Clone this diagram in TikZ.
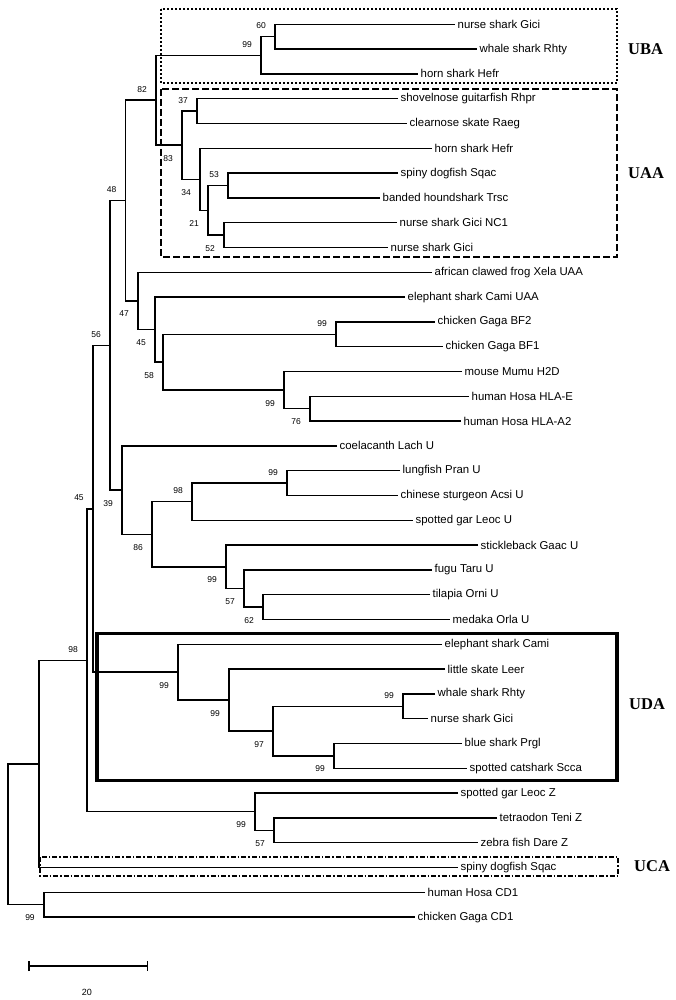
\documentclass[tikz,border=0pt]{standalone}
\usepackage{fontspec}
\setmainfont{Liberation Sans}
\newfontfamily\cladefont{Liberation Serif}
\usetikzlibrary{arrows.meta}

\begin{document}
\begin{tikzpicture}[x=1pt,y=-1pt,
    branch/.style={line width=1.5pt},
    taxon/.style={anchor=west,inner sep=2.5pt,font=\fontsize{11.4}{13}\selectfont},
    boot/.style={inner sep=0pt,font=\fontsize{8.5}{10}\selectfont},
    bup/.style={boot,xshift=-14pt,yshift=11pt},
    bdn/.style={boot,xshift=-14pt,yshift=-13pt},
    clade/.style={anchor=west,inner sep=0pt,font=\cladefont\bfseries\fontsize{16.5}{18}\selectfont},
    dotbox/.style={line width=2pt,dash pattern=on 2pt off 2pt},
    dashbox/.style={line width=2pt,dash pattern=on 7pt off 3pt},
    solidbox/.style={line width=3.5pt},
    dashdotbox/.style={line width=2pt,dash pattern=on 5pt off 2pt on 1.5pt off 2pt}]
  \useasboundingbox (0,0) rectangle (676,1000);

  % clade boxes
  \draw[dotbox] (161,9) rectangle (617,83);
  \draw[dashbox] (161,89) rectangle (617,257);
  \draw[solidbox] (97,633.5) rectangle (617,780.5);
  \draw[dashdotbox] (40,857) rectangle (618,875.5);
  \node[clade] (uba) at (628,49) {UBA};
  \node[clade] (uaa) at (628,173) {UAA};
  \node[clade] (uda) at (629,704) {UDA};
  \node[clade] (uca) at (634,866) {UCA};

  % taxa
  \node[taxon] (t1) at (455,24.3) {nurse shark Gici};
  \node[taxon] (t2) at (477,49.1) {whale shark Rhty};
  \node[taxon] (t3) at (418,73.9) {horn shark Hefr};
  \node[taxon] (t4) at (398,98.7) {shovelnose guitarfish Rhpr};
  \node[taxon] (t5) at (407,123.5) {clearnose skate Raeg};
  \node[taxon] (t6) at (432,148.3) {horn shark Hefr};
  \node[taxon] (t7) at (398,173.1) {spiny dogfish Sqac};
  \node[taxon] (t8) at (380,197.9) {banded houndshark Trsc};
  \node[taxon] (t9) at (397,222.7) {nurse shark Gici NC1};
  \node[taxon] (t10) at (388,247.5) {nurse shark Gici};
  \node[taxon] (t11) at (432,272.3) {african clawed frog Xela UAA};
  \node[taxon] (t12) at (405,297.1) {elephant shark Cami UAA};
  \node[taxon] (t13) at (435,321.9) {chicken Gaga BF2};
  \node[taxon] (t14) at (443,346.7) {chicken Gaga BF1};
  \node[taxon] (t15) at (462,371.5) {mouse Mumu H2D};
  \node[taxon] (t16) at (469,396.3) {human Hosa HLA-E};
  \node[taxon] (t17) at (461,421.1) {human Hosa HLA-A2};
  \node[taxon] (t18) at (337,445.9) {coelacanth Lach U};
  \node[taxon] (t19) at (400,470.7) {lungfish Pran U};
  \node[taxon] (t20) at (398,495.5) {chinese sturgeon Acsi U};
  \node[taxon] (t21) at (413,520.3) {spotted gar Leoc U};
  \node[taxon] (t22) at (478,545.1) {stickleback Gaac U};
  \node[taxon] (t23) at (432,569.9) {fugu Taru U};
  \node[taxon] (t24) at (430,594.7) {tilapia Orni U};
  \node[taxon] (t25) at (450,619.5) {medaka Orla U};
  \node[taxon] (t26) at (442,644.3) {elephant shark Cami};
  \node[taxon] (t27) at (445,669.1) {little skate Leer};
  \node[taxon] (t28) at (435,693.9) {whale shark Rhty};
  \node[taxon] (t29) at (428,718.7) {nurse shark Gici};
  \node[taxon] (t30) at (462,743.5) {blue shark Prgl};
  \node[taxon] (t31) at (467,768.3) {spotted catshark Scca};
  \node[taxon] (t32) at (458,793.1) {spotted gar Leoc Z};
  \node[taxon] (t33) at (497,817.9) {tetraodon Teni Z};
  \node[taxon] (t34) at (478,842.7) {zebra fish Dare Z};
  \node[taxon] (t35) at (458,867.5) {spiny dogfish Sqac};
  \node[taxon] (t36) at (425,892.3) {human Hosa CD1};
  \node[taxon] (t37) at (415,917.1) {chicken Gaga CD1};

  % internal nodes
  \coordinate (gici) at (275,36.7);
  \coordinate (ubaroot) at (261,55.3);
  \coordinate (batoid) at (197,111.1);
  \coordinate (sqtr) at (228,185.5);
  \coordinate (nc1) at (224,235.1);
  \coordinate (sharks) at (208,210.3);
  \coordinate (hefr) at (200,179.3);
  \coordinate (uaaroot) at (182,145.2);
  \coordinate (ubuaa) at (156,100.25);
  \coordinate (bf) at (336,334.3);
  \coordinate (hla) at (310,408.7);
  \coordinate (mammal) at (284,390.1);
  \coordinate (tetra) at (163,362.2);
  \coordinate (cami) at (155,329.65);
  \coordinate (xela) at (138,301);
  \coordinate (uaatop) at (125.5,200.6);
  \coordinate (lung) at (287,483.1);
  \coordinate (lepi) at (192,501.7);
  \coordinate (orla) at (263,607.1);
  \coordinate (taru) at (244,588.5);
  \coordinate (teleo) at (226,566.8);
  \coordinate (bony) at (152,534.25);
  \coordinate (uu) at (122,490.1);
  \coordinate (uclass) at (110,345.35);
  \coordinate (rhgi) at (403,706.3);
  \coordinate (prsc) at (334,755.9);
  \coordinate (carch) at (273,731.1);
  \coordinate (leer) at (229,700.1);
  \coordinate (udaroot) at (178,672.2);
  \coordinate (uad) at (93,508.8);
  \coordinate (teda) at (274,830.3);
  \coordinate (zroot) at (255,811.7);
  \coordinate (uadz) at (87,660.25);
  \coordinate (uall) at (39,763.9);
  \coordinate (cd1) at (44,904.7);
  \coordinate (root) at (8,834.3);

  % branches
  \draw[branch] (t1.west) -| (gici) |- (t2.west);
  \draw[branch] (gici) -| (ubaroot) |- (t3.west);
  \draw[branch] (t4.west) -| (batoid) |- (t5.west);
  \draw[branch] (t7.west) -| (sqtr) |- (t8.west);
  \draw[branch] (t9.west) -| (nc1) |- (t10.west);
  \draw[branch] (sqtr) -| (sharks) |- (nc1);
  \draw[branch] (t6.west) -| (hefr) |- (sharks);
  \draw[branch] (batoid) -| (uaaroot) |- (hefr);
  \draw[branch] (ubaroot) -| (ubuaa) |- (uaaroot);
  \draw[branch] (t13.west) -| (bf) |- (t14.west);
  \draw[branch] (t16.west) -| (hla) |- (t17.west);
  \draw[branch] (t15.west) -| (mammal) |- (hla);
  \draw[branch] (bf) -| (tetra) |- (mammal);
  \draw[branch] (t12.west) -| (cami) |- (tetra);
  \draw[branch] (t11.west) -| (xela) |- (cami);
  \draw[branch] (ubuaa) -| (uaatop) |- (xela);
  \draw[branch] (t19.west) -| (lung) |- (t20.west);
  \draw[branch] (lung) -| (lepi) |- (t21.west);
  \draw[branch] (t24.west) -| (orla) |- (t25.west);
  \draw[branch] (t23.west) -| (taru) |- (orla);
  \draw[branch] (t22.west) -| (teleo) |- (taru);
  \draw[branch] (lepi) -| (bony) |- (teleo);
  \draw[branch] (t18.west) -| (uu) |- (bony);
  \draw[branch] (uaatop) -| (uclass) |- (uu);
  \draw[branch] (t28.west) -| (rhgi) |- (t29.west);
  \draw[branch] (t30.west) -| (prsc) |- (t31.west);
  \draw[branch] (rhgi) -| (carch) |- (prsc);
  \draw[branch] (t27.west) -| (leer) |- (carch);
  \draw[branch] (t26.west) -| (udaroot) |- (leer);
  \draw[branch] (uclass) -| (uad) |- (udaroot);
  \draw[branch] (t33.west) -| (teda) |- (t34.west);
  \draw[branch] (t32.west) -| (zroot) |- (teda);
  \draw[branch] (uad) -| (uadz) |- (zroot);
  \draw[branch] (uadz) -| (uall) |- (t35.west);
  \draw[branch] (t36.west) -| (cd1) |- (t37.west);
  \draw[branch] (uall) -| (root) |- (cd1);

  % bootstrap values
  \node[bup] (b1) at (gici) {60};
  \node[bup] (b2) at (ubaroot) {99};
  \node[bup] (b3) at (ubuaa) {82};
  \node[bdn] (b4) at (uaaroot) {83};
  \node[bup] (b5) at (batoid) {37};
  \node[bdn] (b6) at (hefr) {34};
  \node[bdn] (b7) at (sharks) {21};
  \node[bup] (b8) at (sqtr) {53};
  \node[bdn] (b9) at (nc1) {52};
  \node[bup] (b10) at (uaatop) {48};
  \node[bdn] (b11) at (xela) {47};
  \node[bdn] (b12) at (cami) {45};
  \node[bdn] (b13) at (tetra) {58};
  \node[bup] (b14) at (bf) {99};
  \node[bdn] (b15) at (mammal) {99};
  \node[bdn] (b16) at (hla) {76};
  \node[bup] (b17) at (uclass) {56};
  \node[bdn] (b18) at (uu) {39};
  \node[bdn] (b19) at (bony) {86};
  \node[bup] (b20) at (lepi) {98};
  \node[bup] (b21) at (lung) {99};
  \node[bdn] (b22) at (teleo) {99};
  \node[bdn] (b23) at (taru) {57};
  \node[bdn] (b24) at (orla) {62};
  \node[bup] (b25) at (uad) {45};
  \node[bdn] (b26) at (udaroot) {99};
  \node[bdn] (b27) at (leer) {99};
  \node[bdn] (b28) at (carch) {97};
  \node[bup] (b29) at (rhgi) {99};
  \node[bdn] (b30) at (prsc) {99};
  \node[bup] (b31) at (uadz) {98};
  \node[bdn] (b32) at (zroot) {99};
  \node[bdn] (b33) at (teda) {57};
  \node[bdn] (b34) at (cd1) {99};

  % scale bar
  \coordinate (sbl) at (28,966);
  \coordinate (sbr) at (148,966);
  \draw[branch,{Bar[width=10pt]}-{Bar[width=10pt]}] (sbl) -- (sbr);
  \node[boot,font=\fontsize{9}{10}\selectfont] (sb) at (87,992) {20};
\end{tikzpicture}
\end{document}
